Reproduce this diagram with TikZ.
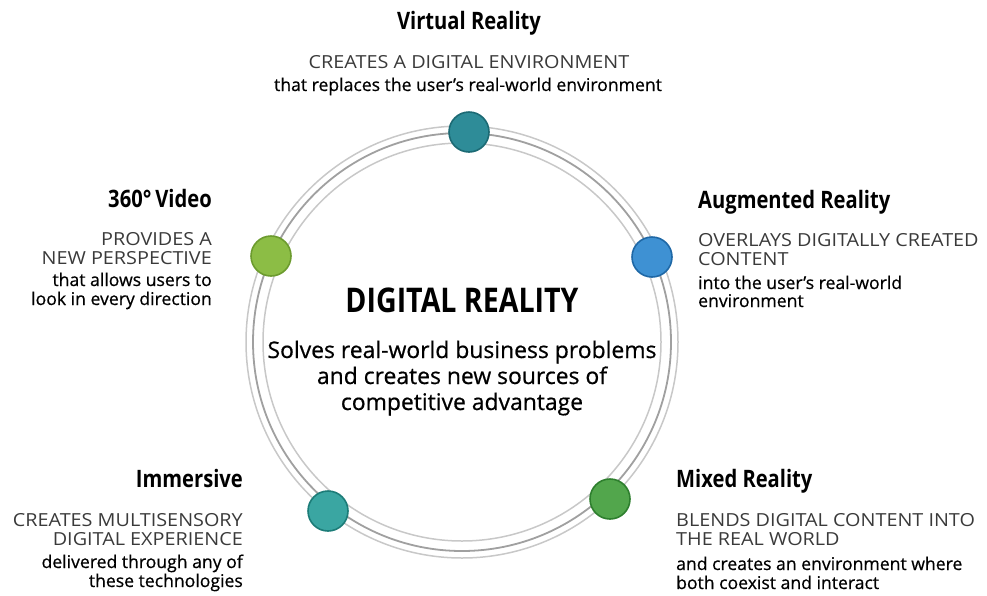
\documentclass[tikz,border=0pt]{standalone}
\usepackage{fontspec}
\setmainfont{Open Sans}
\newfontfamily\titlefont[FakeStretch=0.84]{Open Sans}
\newfontfamily\capsfont[FakeStretch=1.1]{Open Sans}
\newfontfamily\descfont[FakeBold=0.6]{Open Sans}
\definecolor{ringlight}{HTML}{C8C8C8}
\definecolor{ringdark}{HTML}{A0A0A0}
\definecolor{capgray}{HTML}{3A3A3A}
\definecolor{vrfill}{HTML}{2E8C98}\definecolor{vrline}{HTML}{1C6A74}
\definecolor{vidfill}{HTML}{8CBD45}\definecolor{vidline}{HTML}{6C9B2E}
\definecolor{arfill}{HTML}{3E91D3}\definecolor{arline}{HTML}{1F68A6}
\definecolor{imfill}{HTML}{3AA6A2}\definecolor{imline}{HTML}{1C7C78}
\definecolor{mrfill}{HTML}{52A64C}\definecolor{mrline}{HTML}{2E7F2E}
\tikzset{
  ttl/.style={font=\titlefont\bfseries\fontsize{24}{28}\selectfont, inner sep=0pt},
  caps/.style={font=\capsfont\fontsize{18}{22}\selectfont, text=capgray, inner sep=0pt},
  desc/.style={font=\descfont\fontsize{17.6}{21}\selectfont, text=black, inner sep=0pt},
  bigttl/.style={font=\titlefont\bfseries\fontsize{34}{40}\selectfont, inner sep=0pt},
  bigsub/.style={font=\descfont\fontsize{22.9}{27}\selectfont, inner sep=0pt},
  dot/.style={circle, minimum size=40pt, inner sep=0pt, line width=1.6pt},
}
\begin{document}
\begin{tikzpicture}[x=1pt, y=-1pt]
  \useasboundingbox (0,0) rectangle (987,595);
  % double ring
  \coordinate (ctr) at (462,342);
  \draw[ringlight, line width=1.5pt] (ctr) circle[radius=216];
  \draw[ringdark, line width=1.8pt] (ctr) circle[radius=209];
  \draw[ringlight, line width=1.5pt] (ctr) circle[radius=199];

  % dots on the ring
  \node[dot, fill=vrfill, draw=vrline] (dvr) at (469,132) {};
  \node[dot, fill=vidfill, draw=vidline] (dvid) at (271,256) {};
  \node[dot, fill=arfill, draw=arline] (dar) at (652,257) {};
  \node[dot, fill=imfill, draw=imline] (dim) at (328,511) {};
  \node[dot, fill=mrfill, draw=mrline] (dmr) at (610,499) {};

  % centre text
  \node[bigttl, anchor=base] (ctitle) at (462,312) {DIGITAL REALITY};
  \node[bigsub, anchor=base] (csub1) at (462,358) {Solves real-world business problems};
  \node[bigsub, anchor=base] (csub2) at (462,384) {and creates new sources of};
  \node[bigsub, anchor=base] (csub3) at (462,410) {competitive advantage};

  % Virtual Reality
  \node[ttl, anchor=base] (vrt) at (469,29) {Virtual Reality};
  \node[caps, anchor=base] (vrc) at (469,68) {CREATES A DIGITAL ENVIRONMENT};
  \node[desc, anchor=base] (vrd) at (468,91) {that replaces the user’s real-world environment};

  % 360 Video
  \node[ttl, anchor=base east] (vidt) at (212,207) {360°\,Video};
  \node[caps, anchor=base east] (vidc1) at (212,245) {PROVIDES A};
  \node[caps, anchor=base east] (vidc2) at (212,264) {NEW PERSPECTIVE};
  \node[desc, anchor=base east] (vidd1) at (212,286) {that allows users to};
  \node[desc, anchor=base east] (vidd2) at (212,305) {look in every direction};

  % Augmented Reality
  \node[ttl, anchor=base west] (art) at (698,208) {Augmented Reality};
  \node[caps, anchor=base west] (arc1) at (698,246) {OVERLAYS DIGITALLY CREATED};
  \node[caps, anchor=base west] (arc2) at (698,265) {CONTENT};
  \node[desc, anchor=base west] (ard1) at (698,289) {into the user’s real-world};
  \node[desc, anchor=base west] (ard2) at (698,307) {environment};

  % Immersive
  \node[ttl, anchor=base east] (imt) at (243,487) {Immersive};
  \node[caps, anchor=base east] (imc1) at (243,526) {CREATES MULTISENSORY};
  \node[caps, anchor=base east] (imc2) at (243,545) {DIGITAL EXPERIENCE};
  \node[desc, anchor=base east] (imd1) at (243,568) {delivered through any of};
  \node[desc, anchor=base east] (imd2) at (243,587) {these technologies};

  % Mixed Reality
  \node[ttl, anchor=base west] (mrt) at (676,487) {Mixed Reality};
  \node[caps, anchor=base west] (mrc1) at (676,526) {BLENDS DIGITAL CONTENT INTO};
  \node[caps, anchor=base west] (mrc2) at (676,545) {THE REAL WORLD};
  \node[desc, anchor=base west] (mrd1) at (676,570) {and creates an environment where};
  \node[desc, anchor=base west] (mrd2) at (676,589) {both coexist and interact};
\end{tikzpicture}
\end{document}
